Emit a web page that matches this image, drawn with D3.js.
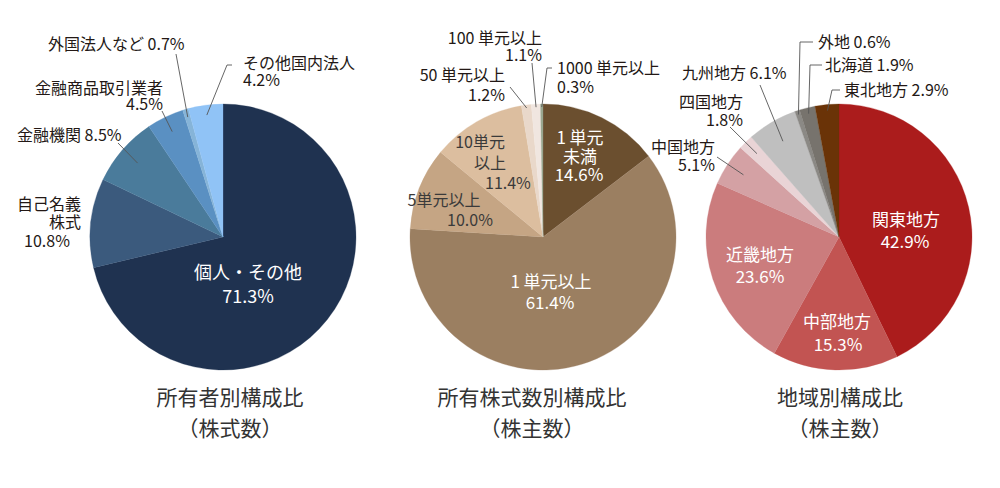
<!DOCTYPE html>
<html><head><meta charset="utf-8">
<script src="https://cdn.jsdelivr.net/npm/d3@7"></script>
<style>
html,body{margin:0;padding:0;background:#fff;}
svg{display:block;font-family:"Noto Sans CJK JP","Noto Sans",sans-serif;}
</style></head>
<body>
<svg id="c" width="1000" height="488"></svg>
<script>
// ---------- data ----------
const ownerCats = ["個人・その他","自己名義株式","金融機関","金融商品取引業者","外国法人など","その他国内法人"];
const ownerVals = [71.3, 10.8, 8.5, 4.5, 0.7, 4.2];
const sizeCats = ["1 単元未満","1 単元以上","5単元以上","10単元以上","50 単元以上","100 単元以上","1000 単元以上"];
const sizeVals = [14.6, 61.4, 10.0, 11.4, 1.2, 1.1, 0.3];
const regionCats = ["関東地方","中部地方","近畿地方","中国地方","四国地方","九州地方","外地","北海道","東北地方"];
const regionVals = [42.9, 15.3, 23.6, 5.1, 1.8, 6.1, 0.6, 1.9, 2.9];
const titles = [["所有者別構成比","（株式数）"],["所有株式数別構成比","（株主数）"],["地域別構成比","（株主数）"]];

// ---------- styles ----------
const ownerColors = ["#1f3250","#3b5a7d","#4a7b9b","#5a90c2","#86b4d8","#90c3f6"];
const sizeColors = ["#6b4f2f","#9b7f61","#c5a584","#dcbe9f","#e9d8ca","#f0e6e0","#9aa78f"];
const regionColors = ["#ab1c1c","#c25452","#cb7c7d","#d4a1a4","#e9d4d6","#bfbfbf","#8b8985","#77736d","#6a3307"];
const DARK = "#231815", LEAD = "#555";

// ---------- layout (label placement) ----------
// s: [start,end) characters of the category name; v: value text
const ownerLayout = [
  {fill:"#fff", fs:18, lines:[{s:[0,6],x:248,y:273,a:"middle"},{v:1,x:248,y:297,a:"middle"}]},
  {lines:[{s:[0,4],x:81,y:204,a:"end"},{s:[4,6],x:81,y:222,a:"end"},{v:1,x:47,y:241,a:"middle"}]},
  {lines:[{s:[0,4],v:1,x:17,y:135,a:"start"}], lead:{r:113,pts:[[118,143]]}},
  {lines:[{s:[0,8],x:163,y:88,a:"end"},{v:1,x:163,y:104,a:"end"}], lead:{r:117,pts:[[162,111]]}},
  {lines:[{s:[0,6],v:1,x:48,y:44,a:"start"}], lead:{r:125,pts:[[176,54]]}},
  {lines:[{s:[0,7],x:243,y:63,a:"start"},{v:1,x:243,y:80,a:"start"}], lead:{r:123,pts:[[232,65],[227,65]]}}
];
const sizeLayout = [
  {fill:"#fff", fs:17, lines:[{s:[0,4],x:580,y:138,a:"middle"},{s:[4,6],x:580,y:157,a:"middle"},{v:1,x:579,y:175,a:"middle"}]},
  {fill:"#fff", fs:17, lines:[{s:[0,6],x:551,y:282,a:"middle"},{v:1,x:550,y:303,a:"middle"}]},
  {fill:"#3a3a3a", fs:16, lines:[{s:[0,5],x:444,y:200,a:"middle"},{v:1,x:470,y:220,a:"middle"}]},
  {fill:"#3a3a3a", fs:16, lines:[{s:[0,4],x:505,y:142,a:"end"},{s:[4,6],x:506,y:163,a:"end"},{v:1,x:485,y:183,a:"start"}]},
  {lines:[{s:[0,7],x:505,y:75,a:"end"},{v:1,x:505,y:95,a:"end"}], lead:{r:130,pts:[[510,87]]}},
  {lines:[{s:[0,8],x:542,y:38,a:"end"},{v:1,x:542,y:55,a:"end"}], lead:{r:130,pts:[[532,63]]}},
  {lines:[{s:[0,9],x:557,y:68,a:"start"},{v:1,x:557,y:87,a:"start"}], lead:{r:130,pts:[[552,68],[547,68]]}}
];
const regionLayout = [
  {fill:"#fff", fs:17, lines:[{s:[0,4],x:906,y:220,a:"middle"},{v:1,x:905,y:242,a:"middle"}]},
  {fill:"#fff", fs:17, lines:[{s:[0,4],x:837,y:322,a:"middle"},{v:1,x:838,y:345,a:"middle"}]},
  {fill:"#fff", fs:17, lines:[{s:[0,4],x:760,y:255,a:"middle"},{v:1,x:760,y:277,a:"middle"}]},
  {lines:[{s:[0,4],x:715,y:147,a:"end"},{v:1,x:715,y:165,a:"end"}], lead:{r:114,pts:[[717,157]]}},
  {lines:[{s:[0,4],x:743,y:102,a:"end"},{v:1,x:743,y:120,a:"end"}], lead:{r:117,pts:[[730,127]]}},
  {lines:[{s:[0,4],v:1,x:682,y:73,a:"start"}], lead:{r:111,pts:[[760,85]]}},
  {lines:[{s:[0,2],v:1,x:818,y:42,a:"start"}], lead:{r:129,pts:[[813,42],[800,42]]}},
  {lines:[{s:[0,3],v:1,x:825,y:65,a:"start"}], lead:{r:127,pts:[[822,65],[810,65]]}},
  {lines:[{s:[0,4],v:1,x:844,y:90,a:"start"}], lead:{r:127,pts:[[840,90],[832,90]]}}
];

const charts = [
  {cats:ownerCats, vals:ownerVals, colors:ownerColors, layout:ownerLayout, cx:223, cy:237, title:titles[0], tx:230},
  {cats:sizeCats, vals:sizeVals, colors:sizeColors, layout:sizeLayout, cx:543, cy:237, title:titles[1], tx:532},
  {cats:regionCats, vals:regionVals, colors:regionColors, layout:regionLayout, cx:839, cy:237, title:titles[2], tx:840}
];
const R = 133;
const fmt = v => d3.format(".1f")(v) + "%";
const svg = d3.select("#c");

charts.forEach(ch => {
  const pie = d3.pie().sort(null).value(d => d)(ch.vals);
  const arc = d3.arc().innerRadius(0).outerRadius(R);
  const g = svg.append("g").attr("transform", `translate(${ch.cx},${ch.cy})`);
  g.selectAll("path").data(pie).join("path")
    .attr("d", arc)
    .attr("fill", (d,i) => ch.colors[i])
    .attr("stroke", (d,i) => ch.colors[i]).attr("stroke-width", 0.3);

  const lab = svg.append("g");
  ch.layout.forEach((L, i) => {
    const name = ch.cats[i];
    const val = fmt(ch.vals[i]);
    if (L.lead) {
      const a2 = d3.arc().innerRadius(L.lead.r).outerRadius(L.lead.r);
      const c = a2.centroid(pie[i]);
      const pts = L.lead.pts.concat([[c[0]+ch.cx, c[1]+ch.cy]]);
      lab.append("path").attr("d", d3.line()(pts))
        .attr("fill","none").attr("stroke", LEAD).attr("stroke-width", 0.9);
    }
    L.lines.forEach(ln => {
      let t = "";
      if (ln.s) t += name.slice(ln.s[0], ln.s[1]);
      if (ln.v) t += (t ? " " : "") + val;
      lab.append("text")
        .attr("x", ln.x).attr("y", ln.y).attr("dy","0.36em")
        .attr("text-anchor", ln.a)
        .attr("font-size", (L.fs || 16) + "px")
        .attr("fill", L.fill || DARK)
        .text(t);
    });
  });

  ch.title.forEach((t, k) => {
    svg.append("text").attr("x", ch.tx).attr("y", 397 + k*31).attr("dy","0.36em")
      .attr("text-anchor","middle").attr("font-size","21px").attr("fill","#333")
      .text(t);
  });
});
</script>
</body></html>
